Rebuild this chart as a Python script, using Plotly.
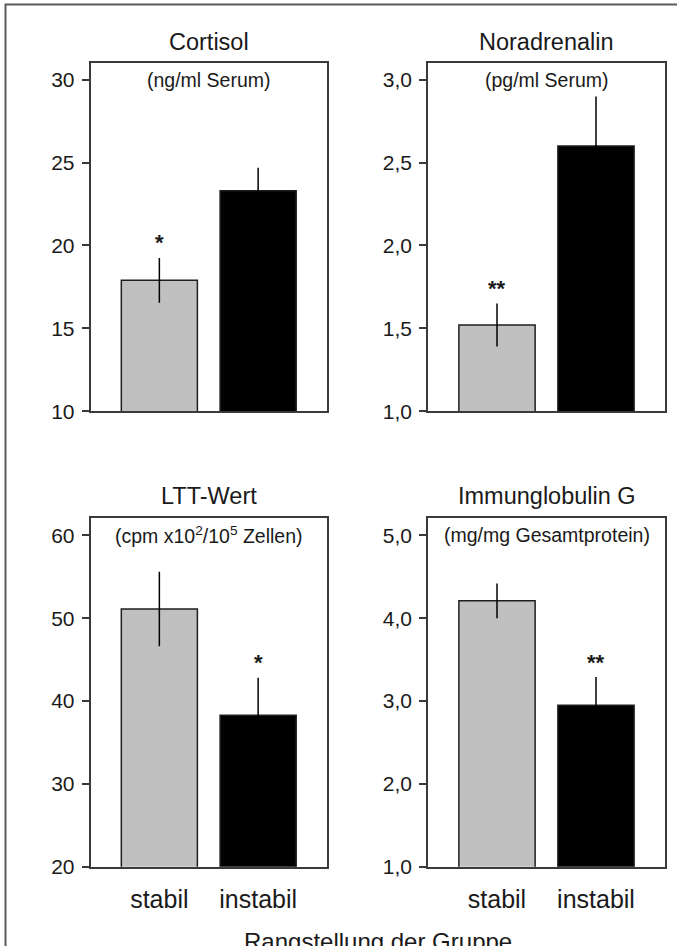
import plotly.graph_objects as go

# ---- data ----
categories = ["stabil", "instabil"]

cortisol_mean = [17.9, 23.3]
cortisol_err = [1.35, 1.4]
noradrenalin_mean = [1.52, 2.6]
noradrenalin_err = [0.13, 0.3]
ltt_mean = [51.1, 38.3]
ltt_err = [4.5, 4.5]
igg_mean = [4.21, 2.95]
igg_err = [0.21, 0.34]

titles = ["Cortisol", "Noradrenalin", "LTT-Wert", "Immunglobulin G"]
units = ["(ng/ml Serum)", "(pg/ml Serum)",
         "(cpm x10<sup>2</sup>/10<sup>5</sup> Zellen)", "(mg/mg Gesamtprotein)"]
stars = [["*", ""], ["**", ""], ["", "*"], ["", "**"]]

cortisol_ticks = [10, 15, 20, 25, 30]
cortisol_ticktext = ["10", "15", "20", "25", "30"]
noradrenalin_ticks = [1.0, 1.5, 2.0, 2.5, 3.0]
noradrenalin_ticktext = ["1,0", "1,5", "2,0", "2,5", "3,0"]
ltt_ticks = [20, 30, 40, 50, 60]
ltt_ticktext = ["20", "30", "40", "50", "60"]
igg_ticks = [1.0, 2.0, 3.0, 4.0, 5.0]
igg_ticktext = ["1,0", "2,0", "3,0", "4,0", "5,0"]

xlabel = "Rangstellung der Gruppe"

# ---- layout geometry ----
W, H = 677, 946
FONT = "Liberation Sans, Arial, sans-serif"
TXT = "#1a1a1a"
bar_colors = ["#c0c0c0", "#000000"]

def px_x(p):
    return p / W

def px_y(p):
    return 1 - p / H

panels = [
    dict(mean=cortisol_mean, err=cortisol_err, ticks=cortisol_ticks, tt=cortisol_ticktext,
         rng=[10, 31.0], xd=(90.5, 327), yd=(64, 416)),
    dict(mean=noradrenalin_mean, err=noradrenalin_err, ticks=noradrenalin_ticks, tt=noradrenalin_ticktext,
         rng=[1.0, 3.1], xd=(428, 665), yd=(64, 416)),
    dict(mean=ltt_mean, err=ltt_err, ticks=ltt_ticks, tt=ltt_ticktext,
         rng=[20, 62.1], xd=(90.5, 327), yd=(524, 877)),
    dict(mean=igg_mean, err=igg_err, ticks=igg_ticks, tt=igg_ticktext,
         rng=[1.0, 5.21], xd=(428, 665), yd=(524, 877)),
]

fig = go.Figure()
annotations = []
layout_axes = {}

for i, p in enumerate(panels):
    n = i + 1
    xa = "x" if n == 1 else f"x{n}"
    ya = "y" if n == 1 else f"y{n}"
    xkey = "xaxis" if n == 1 else f"xaxis{n}"
    ykey = "yaxis" if n == 1 else f"yaxis{n}"

    fig.add_trace(go.Bar(
        x=[0, 1], y=p["mean"], width=0.77,
        marker=dict(color=bar_colors, line=dict(color="#1e1e1e", width=1.5)),
        error_y=dict(type="data", array=p["err"], visible=True,
                     color="#000000", thickness=1.5, width=0),
        xaxis=xa, yaxis=ya, showlegend=False, hoverinfo="skip",
    ))

    bottom = n >= 3
    layout_axes[xkey] = dict(
        domain=[px_x(p["xd"][0]), px_x(p["xd"][1])],
        range=[-0.697, 1.697], anchor=ya,
        showline=True, mirror=True, linecolor="#3a3a3a", linewidth=1.5,
        showgrid=False, zeroline=False, ticks="",
        tickvals=[0, 1] if bottom else [],
        ticktext=categories if bottom else [],
        showticklabels=bottom,
        tickfont=dict(family=FONT, size=25, color=TXT),
        ticklabelstandoff=9,
        fixedrange=True,
    )
    layout_axes[ykey] = dict(
        domain=[px_y(p["yd"][1]), px_y(p["yd"][0])],
        range=p["rng"], anchor=xa,
        showline=True, mirror=True, linecolor="#3a3a3a", linewidth=1.5,
        showgrid=False, zeroline=False,
        ticks="outside", ticklen=7, tickwidth=1.5, tickcolor="#3a3a3a",
        tickvals=p["ticks"], ticktext=p["tt"],
        tickfont=dict(family=FONT, size=21, color=TXT),
        ticklabelstandoff=3,
        fixedrange=True,
    )

    cx = px_x((p["xd"][0] + p["xd"][1]) / 2)
    # title
    annotations.append(dict(
        text=titles[i], xref="paper", yref="paper", x=cx,
        y=px_y(p["yd"][0] - 22), xanchor="center", yanchor="middle",
        showarrow=False, font=dict(family=FONT, size=23.5, color=TXT),
    ))
    # units
    annotations.append(dict(
        text=units[i], xref="paper", yref="paper", x=cx,
        y=px_y(p["yd"][0] + 17), xanchor="center", yanchor="middle",
        showarrow=False, font=dict(family=FONT, size=19.5, color=TXT),
    ))
    # significance stars
    for j in range(2):
        if stars[i][j]:
            annotations.append(dict(
                text="<b>" + stars[i][j] + "</b>", xref=xa, yref=ya, x=j,
                y=p["mean"][j] + p["err"][j],
                xanchor="center", yanchor="middle", yshift=15,
                showarrow=False, font=dict(family=FONT, size=22, color=TXT),
            ))

# x-axis title (partly cut off at bottom, as in the reference)
annotations.append(dict(
    text=xlabel, xref="paper", yref="paper", x=px_x((90.5 + 665) / 2),
    y=px_y(937), xanchor="center", yanchor="top",
    showarrow=False, font=dict(family=FONT, size=24, color=TXT),
))

fig.update_layout(
    width=W, height=H,
    margin=dict(l=0, r=0, t=0, b=0),
    paper_bgcolor="white", plot_bgcolor="white",
    annotations=annotations,
    shapes=[dict(type="rect", xref="paper", yref="paper",
                 x0=px_x(5.5), x1=1.1, y0=-0.1, y1=px_y(4.5),
                 line=dict(color="#5a5a5a", width=2), layer="below")],
    **layout_axes,
)

fig.write_html("out.html")
